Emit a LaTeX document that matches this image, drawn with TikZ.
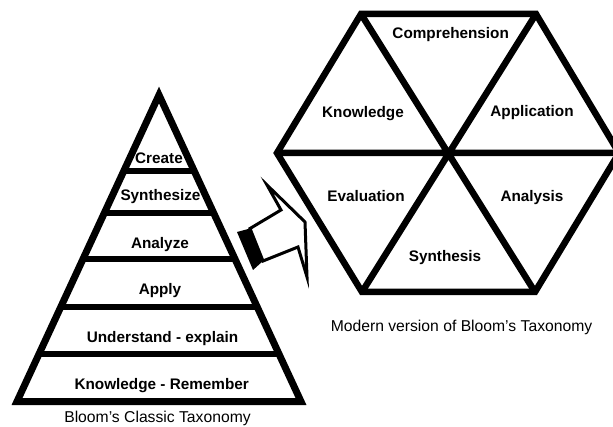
\documentclass[tikz,border=0pt]{standalone}
\usepackage{fontspec}
\setmainfont{Liberation Sans}
\usetikzlibrary{calc}
\begin{document}
\begin{tikzpicture}[x=1pt,y=-1pt,
  frame/.style={line width=7pt, line join=miter},
  band/.style={line width=6pt},
  hexline/.style={line width=6.5pt, line join=miter},
  lbl/.style={font=\fontsize{15.3}{18}\selectfont\bfseries, anchor=base, inner sep=0pt},
  caption/.style={font=\fontsize{15.7}{18}\selectfont, anchor=base, inner sep=0pt},
]
\useasboundingbox (0,0) rectangle (613,427);

% ---------- classic pyramid ----------
\coordinate (apex) at (159,95);
\coordinate (bl) at (17,401.5);
\coordinate (br) at (301,401.5);
\foreach \t in {0.248,0.385,0.5367,0.6917,0.845}
  \draw[band] ($(apex)!\t!(bl)$) -- ($(apex)!\t!(br)$);
\draw[frame] (apex) -- (bl) -- (br) -- cycle;

\node[lbl] (create)     at (159,164)   {Create};
\node[lbl] (synthesize) at (160.5,201) {Synthesize};
\node[lbl] (analyze)    at (160,248.5) {Analyze};
\node[lbl] (apply)      at (160,295)   {Apply};
\node[lbl] (understand) at (162.5,342.5) {Understand - explain};
\node[lbl] (remember)   at (161.7,390) {Knowledge - Remember};
\node[caption] (capclassic) at (157.5,422.5) {Bloom’s Classic Taxonomy};

% ---------- block arrow ----------
\fill (237,232) -- (250,228.5) -- (263,261) -- (253,270) -- cycle;
\draw[line width=3pt, fill=white, line join=miter]
  (250,228.5) -- (281,210) -- (267,185) -- (305,222) -- (307,277)
  -- (298,247) -- (263,261) -- cycle;

% ---------- modern hexagon ----------
\coordinate (hc) at (448.5,153);
\coordinate (h1) at (361,14);
\coordinate (h2) at (536,14);
\coordinate (h3) at (619,153);
\coordinate (h4) at (535,292);
\coordinate (h5) at (362,292);
\coordinate (h6) at (277,153);
\draw[hexline] (h1) -- (h2) -- (h3) -- (h4) -- (h5) -- (h6) -- cycle;
\draw[hexline] (h1) -- (h4) (h2) -- (h5) (h6) -- (h3);

\node[lbl] (comprehension) at (450.7,39)  {Comprehension};
\node[lbl] (knowledge)     at (363,118)   {Knowledge};
\node[lbl] (application)   at (532,116.5) {Application};
\node[lbl] (evaluation)    at (366,201.5) {Evaluation};
\node[lbl] (analysis)      at (532,201.5) {Analysis};
\node[lbl] (synthesis)     at (445,262)   {Synthesis};
\node[caption] (capmodern) at (461.5,332) {Modern version of Bloom’s Taxonomy};
\end{tikzpicture}
\end{document}
